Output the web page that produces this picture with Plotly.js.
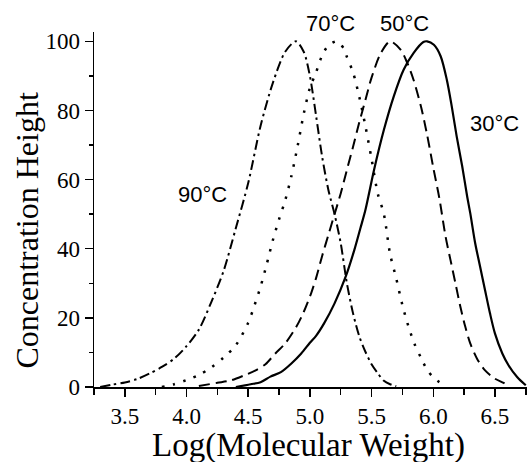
<!DOCTYPE html>
<html>
<head>
<meta charset="utf-8">
<script src="https://cdn.plot.ly/plotly-3.0.1.min.js"></script>
<style>html,body{margin:0;padding:0;background:#fff;}#chart{width:528px;height:462px;}</style>
</head>
<body>
<div id="chart"></div>
<script>
// Log(Molecular Weight) and concentration height for each temperature
var x90 = [3.30, 3.40, 3.50, 3.60, 3.70, 3.80, 3.90, 4.00, 4.10, 4.20, 4.30, 4.40, 4.50, 4.60, 4.70, 4.80, 4.887, 4.95, 5.00, 5.05, 5.10, 5.15, 5.20, 5.25, 5.30, 5.35, 5.40, 5.45, 5.50, 5.55, 5.60, 5.65, 5.70];
var y90 = [0, 0.7, 1.3, 2.3, 3.9, 5.8, 8.2, 11.8, 16.6, 24.5, 33.5, 46, 59, 75.5, 88, 97, 100, 97, 90, 78.5, 66.5, 57, 50, 41.6, 30, 21.3, 14.7, 10.2, 6.6, 4.0, 1.8, 0.8, 0.2];

var x70 = [3.80, 3.90, 4.00, 4.10, 4.20, 4.30, 4.40, 4.50, 4.55, 4.60, 4.65, 4.70, 4.75, 4.80, 4.85, 4.90, 4.95, 5.00, 5.05, 5.10, 5.15, 5.22, 5.28, 5.30, 5.35, 5.40, 5.45, 5.50, 5.55, 5.60, 5.65, 5.70, 5.75, 5.80, 5.85, 5.90, 5.95, 6.00, 6.05, 6.10];
var y70 = [0, 0.8, 2.0, 3.5, 5.6, 8.5, 12.1, 18.6, 23.5, 29, 35.5, 42.5, 48.5, 54, 61, 69.6, 79, 86.5, 91, 96, 98.8, 100, 97.6, 95.5, 91, 84, 75.5, 66, 56, 50, 38.5, 31.4, 23.7, 17.4, 12.3, 8.5, 5.0, 2.8, 1.4, 0.3];

var x50 = [4.10, 4.25, 4.36, 4.47, 4.56, 4.64, 4.72, 4.80, 4.89, 4.95, 5.01, 5.05, 5.10, 5.15, 5.20, 5.25, 5.30, 5.35, 5.40, 5.45, 5.50, 5.575, 5.65, 5.735, 5.79, 5.84, 5.90, 5.95, 6.00, 6.05, 6.10, 6.14, 6.18, 6.22, 6.26, 6.30, 6.355, 6.42, 6.50, 6.57, 6.60];
var y50 = [0.3, 1.2, 1.9, 3.4, 4.8, 6.6, 9.7, 12.6, 17.4, 21.7, 27.1, 31.5, 38, 44, 50, 56, 62.8, 69.5, 76.5, 83, 89.5, 96.6, 100, 97.6, 93.7, 88.9, 81.2, 73, 63.5, 54.5, 43.5, 36.7, 30, 23.2, 17.4, 12.6, 8.2, 4.8, 2.4, 1.2, 0.5];

var x30 = [4.40, 4.52, 4.60, 4.68, 4.765, 4.85, 4.93, 5.00, 5.05, 5.115, 5.20, 5.29, 5.36, 5.41, 5.45, 5.52, 5.60, 5.68, 5.76, 5.84, 5.92, 5.95, 6.005, 6.06, 6.11, 6.15, 6.19, 6.235, 6.275, 6.30, 6.34, 6.38, 6.42, 6.46, 6.50, 6.56, 6.61, 6.68, 6.75];
var y30 = [0, 0.8, 1.4, 3.0, 4.3, 6.8, 9.7, 12.8, 14.8, 18.4, 24.2, 31.9, 39.6, 46, 51.2, 62.8, 74.4, 84.1, 91.8, 96.6, 99.8, 100, 99, 95.7, 88.9, 81.2, 72.5, 63.8, 55.1, 50.3, 41.6, 34.8, 28, 21.3, 15.5, 9.7, 6.3, 2.9, 0.5];

var labels = ['90°C', '70°C', '50°C', '30°C'];
var labelX = [4.133, 5.168, 5.763, 6.499];
var labelY = [55.6, 105.1, 105.1, 76.1];

var xTickVals = [3.5, 4.0, 4.5, 5.0, 5.5, 6.0, 6.5];
var xTickText = ['3.5', '4.0', '4.5', '5.0', '5.5', '6.0', '6.5'];
var yTickVals = [0, 20, 40, 60, 80, 100];
var yTickText = ['0', '20', '40', '60', '80', '100'];

var xTitle = 'Log(Molecular Weight)';
var yTitle = 'Concentration Height';

var xRange = [3.25, 6.76];
var yRange = [0, 102.7];

function tr(x, y, dash, w) {
  return {x: x, y: y, mode: 'lines', type: 'scatter', hoverinfo: 'none',
    line: {color: '#000', width: w, dash: dash, shape: 'spline', smoothing: 0.8}};
}

var data = [
  {x: [], y: [], xaxis: 'x2', yaxis: 'y2', type: 'scatter', mode: 'lines', hoverinfo: 'none'},
  tr(x90, y90, '10px,4px,2.5px,4px', 2),
  tr(x70, y70, '2.5px,8.5px', 2.5),
  tr(x50, y50, '11px,6px', 2),
  tr(x30, y30, 'solid', 2.2)
];

var serif = '"Liberation Serif", "Times New Roman", serif';
var sans = '"Liberation Sans", Arial, sans-serif';

var ann = labels.map(function (t, i) {
  return {text: t, x: labelX[i], y: labelY[i] / yRange[1], xref: 'x', yref: 'paper', showarrow: false,
    xanchor: 'center', yanchor: 'middle', font: {family: sans, size: 22, color: '#000'}};
});
ann.push({text: xTitle, xref: 'paper', yref: 'paper', x: 0.4965, y: -0.166, showarrow: false,
  xanchor: 'center', yanchor: 'middle', font: {family: serif, size: 33, color: '#000'}});
ann.push({text: yTitle, xref: 'paper', yref: 'paper', x: -0.1547, y: 0.4408, showarrow: false, textangle: -90,
  xanchor: 'center', yanchor: 'middle', font: {family: serif, size: 32, color: '#000'}});

var layout = {
  width: 528, height: 462,
  margin: {l: 94, r: 1, t: 32, b: 75, pad: 0},
  paper_bgcolor: '#fff', plot_bgcolor: '#fff',
  font: {family: serif, size: 24, color: '#000'},
  showlegend: false,
  xaxis: {range: xRange, showline: true, linecolor: '#000', linewidth: 1.5,
    showgrid: false, zeroline: false, ticks: 'outside', ticklen: 8, tickwidth: 1.5, tickcolor: '#000',
    tickmode: 'array', tickvals: xTickVals, ticktext: xTickText,
    tickfont: {family: serif, size: 23, color: '#000'}, fixedrange: true},
  yaxis: {range: yRange, showline: true, linecolor: '#000', linewidth: 1.5,
    showgrid: false, zeroline: false, ticks: 'outside', ticklen: 8, tickwidth: 1.5, tickcolor: '#000',
    tickmode: 'array', tickvals: yTickVals, ticktext: yTickText,
    tickfont: {family: serif, size: 23, color: '#000'}, fixedrange: true},
  xaxis2: {range: xRange, overlaying: 'x', anchor: 'y', side: 'bottom', showline: false,
    showgrid: false, zeroline: false, showticklabels: false, ticks: 'outside',
    tickmode: 'linear', tick0: 3.25, dtick: 0.25, ticklen: 7, tickwidth: 1.5, tickcolor: '#000', fixedrange: true},
  yaxis2: {range: yRange, overlaying: 'y', anchor: 'x', side: 'left', showline: false,
    showgrid: false, zeroline: false, showticklabels: false, ticks: 'outside',
    tickmode: 'linear', tick0: 0, dtick: 10, ticklen: 4, tickwidth: 1.5, tickcolor: '#000', fixedrange: true},
  annotations: ann
};

Plotly.newPlot('chart', data, layout, {staticPlot: true, displayModeBar: false});
</script>
</body>
</html>
